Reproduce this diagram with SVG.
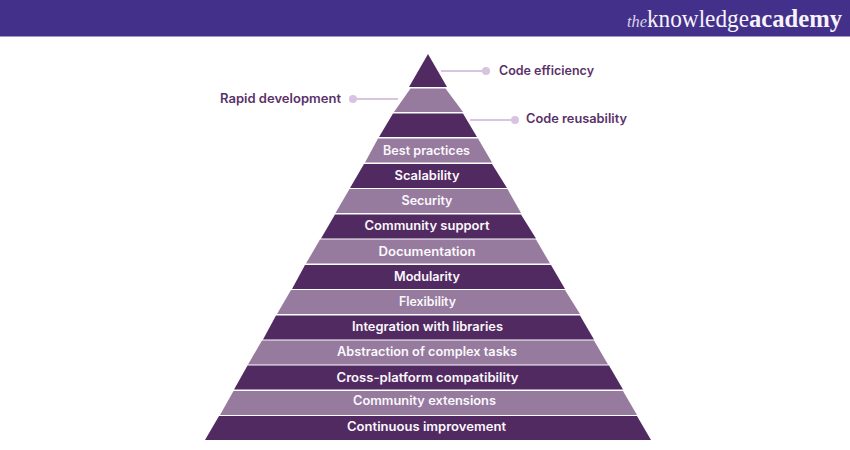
<svg xmlns="http://www.w3.org/2000/svg" width="850" height="450" viewBox="0 0 850 450">
<style>
.dark{fill:#522a62}
.light{fill:#967b9f}
.in{font:600 12.5px Inter,"Noto Sans",sans-serif;fill:#fbf8fc;text-anchor:middle}
.out{font:600 12.5px Inter,"Noto Sans",sans-serif;fill:#5a3269}
.lead{stroke:#d8c3e0;stroke-width:2;fill:none}
.dot{fill:#d8c3e0}
.logo{font-family:"Liberation Serif",serif;font-size:25px;fill:#f6f3fa}
</style>
<rect width="850" height="450" fill="#fff"/>
<g id="header">
<rect width="850" height="36.500" fill="#43308a"/>
<text class="logo" x="627" y="27" style="font-size:17px;font-style:italic;fill:#d9d3e8" textLength="20" lengthAdjust="spacingAndGlyphs">the</text>
<text class="logo" x="647" y="27" textLength="102" lengthAdjust="spacingAndGlyphs">knowledge</text>
<text class="logo" x="749" y="27" style="font-weight:bold" textLength="93" lengthAdjust="spacingAndGlyphs">academy</text>
</g>
<g id="connectors">
<path class="lead" d="M441 71H486"/>
<path class="lead" d="M353 99H398"/>
<path class="lead" d="M470 120H515"/>
<circle class="dot" cx="486" cy="71" r="4"/>
<circle class="dot" cx="353" cy="99" r="4"/>
<circle class="dot" cx="515" cy="120" r="4"/>
</g>
<g id="level-1"><polygon class="dark" points="428,54 447,87 409,87"/><text class="out" x="499" y="74.500" textLength="95" lengthAdjust="spacingAndGlyphs">Code efficiency</text></g>
<g id="level-2"><polygon class="light" points="410.500,88.500 445.500,88.500 463,112 394,112"/><text class="out" x="220" y="102.500" textLength="121" lengthAdjust="spacingAndGlyphs">Rapid development</text></g>
<g id="level-3"><polygon class="dark" points="393,113.500 463,113.500 477,137 379,137"/><text class="out" x="526" y="123" textLength="101" lengthAdjust="spacingAndGlyphs">Code reusability</text></g>
<g id="level-4"><polygon class="light" points="378,138.500 478,138.500 492,162.500 365,162.500"/><text class="in" x="426.500" y="155" textLength="87" lengthAdjust="spacingAndGlyphs">Best practices</text></g>
<g id="level-5"><polygon class="dark" points="364,164 492,164 507,188 350,188"/><text class="in" x="427" y="180" textLength="65" lengthAdjust="spacingAndGlyphs">Scalability</text></g>
<g id="level-6"><polygon class="light" points="349.500,189 507.500,189 521,213 335.500,213"/><text class="in" x="427" y="204.500" textLength="51" lengthAdjust="spacingAndGlyphs">Security</text></g>
<g id="level-7"><polygon class="dark" points="335,214.500 521,214.500 536,238.500 321,238.500"/><text class="in" x="427" y="230" textLength="125" lengthAdjust="spacingAndGlyphs">Community support</text></g>
<g id="level-8"><polygon class="light" points="320,239.500 536,239.500 550,263.500 306,263.500"/><text class="in" x="427" y="255.500" textLength="97" lengthAdjust="spacingAndGlyphs">Documentation</text></g>
<g id="level-9"><polygon class="dark" points="305,265 551,265 565,289 292,289"/><text class="in" x="427" y="281" textLength="66" lengthAdjust="spacingAndGlyphs">Modularity</text></g>
<g id="level-10"><polygon class="light" points="291,290 565,290 580,314 277,314"/><text class="in" x="427.500" y="305.500" textLength="57" lengthAdjust="spacingAndGlyphs">Flexibility</text></g>
<g id="level-11"><polygon class="dark" points="276,315.500 580,315.500 594,339.500 263,339.500"/><text class="in" x="427.500" y="331" textLength="151" lengthAdjust="spacingAndGlyphs">Integration with libraries</text></g>
<g id="level-12"><polygon class="light" points="262,340.500 594,340.500 608,364.500 248,364.500"/><text class="in" x="427" y="355.500" textLength="180" lengthAdjust="spacingAndGlyphs">Abstraction of complex tasks</text></g>
<g id="level-13"><polygon class="dark" points="247.500,365.500 609,365.500 623,389.500 234,389.500"/><text class="in" x="427.500" y="381.500" textLength="182" lengthAdjust="spacingAndGlyphs">Cross-platform compatibility</text></g>
<g id="level-14"><polygon class="light" points="233.500,391 623,391 637,415 220,415"/><text class="in" x="424.500" y="405" textLength="143" lengthAdjust="spacingAndGlyphs">Community extensions</text></g>
<g id="level-15"><polygon class="dark" points="219,416 637,416 651,440 205,440"/><text class="in" x="426.500" y="431" textLength="159" lengthAdjust="spacingAndGlyphs">Continuous improvement</text></g>
</svg>
